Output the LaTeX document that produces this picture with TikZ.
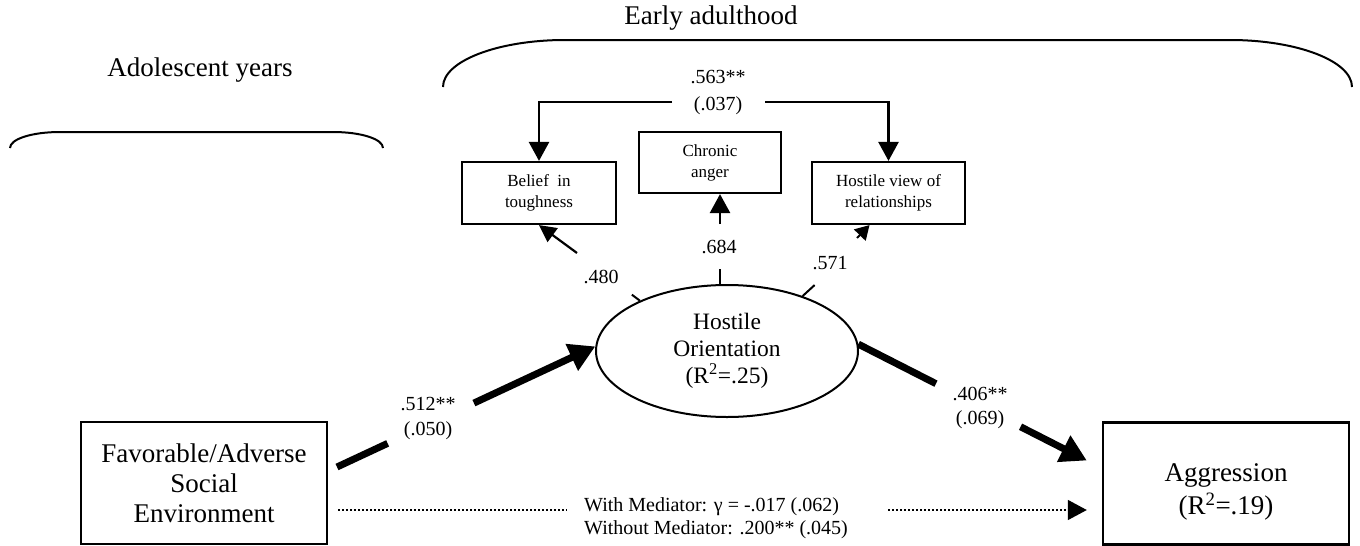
\documentclass[tikz,border=0pt]{standalone}
\usepackage{fontspec}
\setmainfont{Liberation Serif}
\usetikzlibrary{arrows.meta,calc,shapes.geometric}
\begin{document}
\begin{tikzpicture}[x=1pt,y=-1pt,
  boxline/.style={draw,inner sep=0pt,align=center},
  bigbox/.style={boxline,line width=2.4pt,minimum width=246pt,minimum height=122pt,font=\fontsize{27}{30}\selectfont},
  smallbox/.style={boxline,line width=2.2pt,font=\fontsize{17}{21}\selectfont},
  lab/.style={font=\fontsize{20}{25}\selectfont,align=center,inner sep=0pt},
  headtext/.style={font=\fontsize{27}{32}\selectfont,inner sep=0pt},
  midline/.style={line width=2.6pt},
  toparrow/.style={line width=2.6pt,-{Triangle[length=19pt,width=20pt]}},
  smallarrow/.style={line width=2.2pt,-{Triangle[length=17pt,width=17pt]}},
  bigline/.style={line width=7pt},
  bigarrow/.style={line width=7pt,-{Triangle[length=26pt,width=28pt]}},
  dotline/.style={line width=1.6pt,dash pattern=on 1.6pt off 2.4pt},
  brace/.style={line width=2pt}
]
\useasboundingbox (0,0) rectangle (1360,546);

% headings and brackets
\node[headtext] (ea) at (711,18) {Early adulthood};
\node[headtext] (ay) at (200,70) {Adolescent years};
\draw[brace] (443,87) .. controls (443,61) and (498,40) .. (565,40) -- (1230,40) .. controls (1297,40) and (1352,61) .. (1352,87);
\draw[brace] (10,148) .. controls (10,139) and (32,132) .. (60,132) -- (333,132) .. controls (361,132) and (383,139) .. (383,148);

% nodes
\node[smallbox,minimum width=154pt,minimum height=62pt] (bt) at (539,193) {Belief\ \ in\\toughness};
\node[smallbox,minimum width=142pt,minimum height=61pt] (ca) at (710,162.5) {Chronic\\anger};
\node[smallbox,minimum width=153pt,minimum height=62pt] (hv) at (888.5,193) {Hostile view of\\relationships};
\node[draw,ellipse,line width=2pt,minimum width=262pt,minimum height=132pt,inner sep=0pt,align=center,font=\fontsize{23.5}{27}\selectfont] (ho) at (727,351) {Hostile\\Orientation\\(R\textsuperscript{2}=.25)};
\node[bigbox] (fa) at (204,483) {Favorable/Adverse\\Social\\Environment};
\node[bigbox] (ag) at (1226,483.5) {};
\node[font=\fontsize{27}{33}\selectfont,align=center,inner sep=0pt] (agt) at (1226,492) {Aggression\\(R\textsuperscript{2}=.19)};

% correlation among indicators
\node[lab,font=\fontsize{20}{27}\selectfont] (l563) at (718,93) {.563**\\(.037)};
\coordinate (jl) at (672,102);
\coordinate (jr) at (765,102);
\draw[toparrow] (jl) -| (bt.north);
\draw[toparrow] (jr) -| (hv.north);

% loadings
\node[lab] (l684) at (719,247) {.684};
\node[lab] (l480) at (601,277) {.480};
\node[lab] (l571) at (830,263) {.571};
\draw[midline] (ho.96) -- ++(0,-15);
\coordinate (cs) at (720,224);
\draw[toparrow] (cs) -- (cs |- ca.south);
\draw[line width=2pt] (ho.150.6) -- ++(-8,-6);
\coordinate (bs) at (577,253);
\draw[smallarrow] (bs) -- (bt.south);
\draw[line width=2pt] (ho.36.5) -- ++(12,-11);
\coordinate (hs) at (857,238);
\draw[line width=2pt,-{Triangle[length=14pt,width=16pt]}] (hs) -- ($(hv.south)+(-19,0)$);

% structural paths
\coordinate (a1s) at (337,467);
\draw[bigline] (a1s) -- ($(a1s)!0.196!(ho.178)$);
\draw[bigarrow] ($(a1s)!0.53!(ho.178)$) -- (ho.178);
\node[lab] (l512) at (428,419) {.512**\\(.050)};

\coordinate (a2e) at ($(ag.west)+(-15,-23)$);
\draw[bigline] (ho.3) -- ($(ho.3)!0.34!(a2e)$);
\draw[bigarrow] ($(ho.3)!0.71!(a2e)$) -- (a2e);
\node[lab,font=\fontsize{20}{24}\selectfont] (l406) at (980,408) {.406**\\(.069)};

% direct path
\coordinate (d1) at ($(fa.east)+(10,27)$);
\coordinate (d2) at (567,510);
\coordinate (d3) at (888,510);
\coordinate (d4) at ($(ag.west)+(-15,26.5)$);
\draw[dotline] (d1) -- (d2);
\draw[dotline,-{Triangle[length=19pt,width=20pt]}] (d3) -- (d4);
\node[anchor=west,align=left,inner sep=0pt,font=\fontsize{20}{23}\selectfont] (med) at (584,518) {With Mediator: γ = -.017 (.062)\\Without Mediator: .200** (.045)};
\end{tikzpicture}
\end{document}
